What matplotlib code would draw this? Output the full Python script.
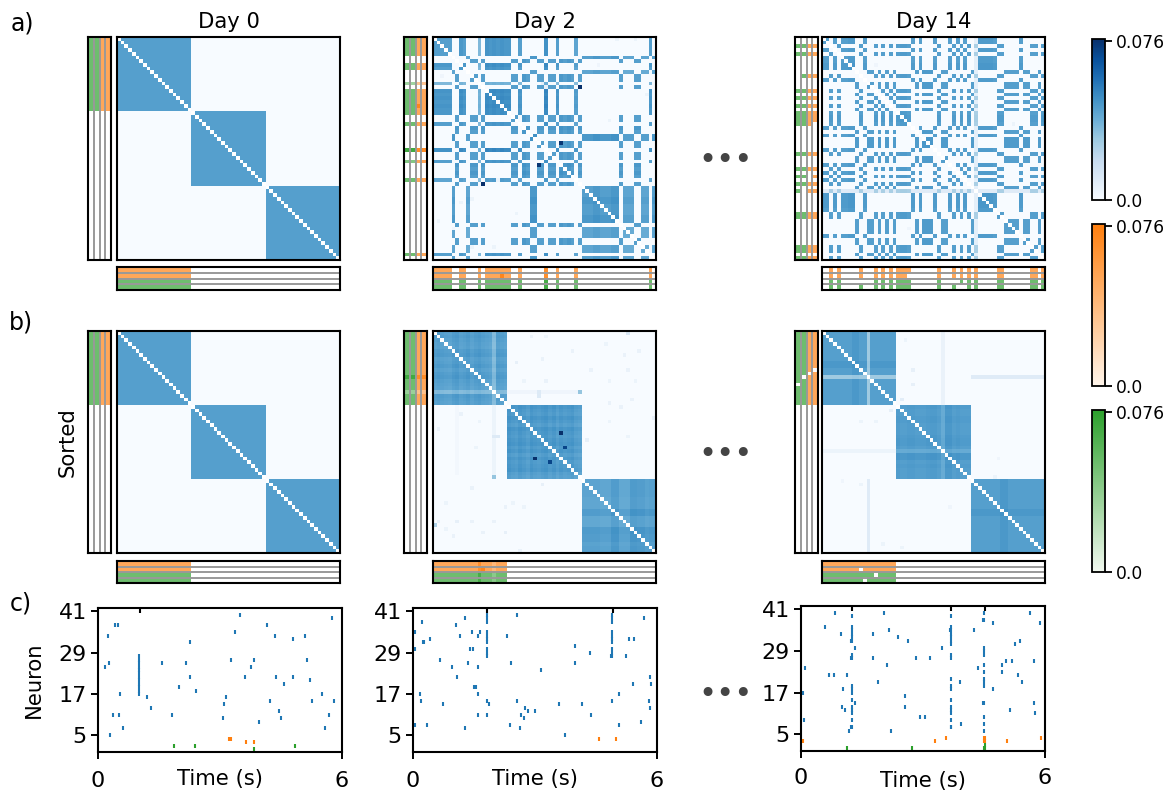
import matplotlib
matplotlib.use('Agg')
import matplotlib.pyplot as plt
import numpy as np
from matplotlib.colors import LinearSegmentedColormap, Normalize
from matplotlib.cm import ScalarMappable

W, H = 1172, 794
VMAX = 0.076
BLOCK = 0.043
STRIP = 0.052

# assembly of each neuron, in plotted order
labels_sorted = 'A' * 20 + 'B' * 20 + 'C' * 20
labels_day2 = 'AAAAACBAACBBABAAAAAAABBABBCCBBABBABBBBAB' + 'CCCCCCCCCCBCCCBBCCAC'
labels_day14 = ''.join(['B', 'B', 'A', 'B', 'A', 'B', 'B', 'B', 'B', 'C',
                        'A', 'B', 'C', 'C', 'A', 'C', 'A', 'C', 'A', 'C',
                        'A', 'A', 'A', 'A', 'B', 'C', 'B', 'C', 'C', 'C',
                        'B', 'A', 'C', 'C', 'B', 'A', 'B', 'A', 'B', 'A',
                        'C', 'A', 'B', 'B', 'B', 'B', 'B', 'A', 'A', 'C',
                        'C', 'C', 'C', 'B', 'C', 'C', 'A', 'A', 'C', 'A'])

# per neuron strength
gain_flat = [1.0] * 60
gain_day2_raw = [1.0, 1.0, 1.0, 1.0, 1.0, 1.0, 1.0, 1.05, 1.0, 0.95,
                 1.0, 1.0, 0.8, 1.0, 1.08, 1.05, 1.08, 1.05, 1.08, 1.05,
                 1.05, 1.0, 1.0, 1.0, 1.05, 1.0, 1.05, 1.05, 1.0, 1.0,
                 1.1, 1.0, 1.0, 1.0, 1.05, 1.0, 1.05, 1.0, 0.95, 1.0,
                 1.0, 1.0, 1.0, 1.05, 1.05, 1.0, 1.0, 1.0, 1.05, 1.05,
                 1.0, 0.95, 0.95, 0.95, 1.0, 1.0, 0.95, 0.95, 1.0, 1.0]
gain_day14_raw = [1.0, 1.0, 1.0, 1.0, 1.0, 1.0, 1.0, 1.03, 1.03, 1.0,
                  1.0, 1.0, 1.0, 1.0, 1.0, 1.0, 1.0, 1.0, 1.0, 1.0,
                  1.0, 1.03, 1.03, 1.0, 1.0, 1.0, 1.0, 1.03, 1.03, 1.03,
                  1.0, 1.0, 1.0, 1.0, 1.0, 1.0, 1.0, 1.0, 1.0, 1.0,
                  1.0, 0.6, 1.03, 1.03, 1.03, 1.03, 1.0, 1.0, 1.0, 1.0,
                  1.0, 1.0, 1.0, 1.0, 1.0, 1.0, 1.0, 1.0, 1.0, 1.0]
gain_day2_sorted = [1.0, 1.02, 1.0, 0.98, 0.97, 1.02, 1.04, 0.98, 1.0, 1.03,
                    0.98, 1.02, 1.04, 1.0, 0.98, 0.96, 0.78, 1.02, 1.0, 0.98,
                    1.05, 1.02, 1.0, 1.05, 1.02, 0.98, 1.05, 1.02, 1.0, 1.03,
                    1.05, 1.0, 1.04, 0.98, 1.03, 1.0, 1.02, 1.04, 0.98, 0.96,
                    0.98, 0.98, 0.98, 0.98, 0.98, 0.96, 0.96, 0.96, 1.04, 1.04,
                    0.95, 0.95, 0.95, 1.05, 1.05, 1.03, 1.03, 0.99, 1.01, 1.01]
gain_day14_sorted = [1.0, 1.0, 1.0, 1.0, 1.0, 1.0, 1.0, 1.0, 1.05, 1.05,
                     1.0, 1.0, 0.65, 1.0, 1.0, 1.0, 1.0, 1.0, 1.0, 1.0,
                     1.02, 1.0, 1.0, 1.02, 1.02, 1.0, 1.0, 1.0, 1.02, 1.03,
                     1.03, 1.0, 0.9, 1.05, 1.05, 1.0, 1.02, 1.0, 1.0, 1.0,
                     1.0, 1.0, 1.0, 1.0, 1.0, 1.0, 1.0, 1.0, 1.05, 1.05,
                     1.0, 1.0, 1.0, 1.0, 1.0, 1.0, 1.0, 1.0, 1.0, 1.0]

# (row, col, weight) for the single cells that stand out
cells_day2_raw = [(13, 39, 0.076), (39, 13, 0.076), (28, 34, 0.074), (34, 28, 0.074),
                  (0, 49, 0.004), (0, 54, 0.004), (7, 44, 0.003), (15, 57, 0.004),
                  (22, 47, 0.004), (44, 7, 0.004), (43, 10, 0.004), (47, 22, 0.004),
                  (49, 1, 0.004), (12, 29, 0.006), (13, 30, 0.006), (56, 16, 0.004),
                  (56, 10, 0.004), (10, 2, 0.003), (38, 17, 0.004), (51, 5, 0.003)]
cells_day14_raw = [(23, 51, 0.004), (7, 14, 0.003), (51, 23, 0.003)]
cells_day2_sorted = [(27, 34, 0.076), (34, 27, 0.076), (31, 35, 0.07), (35, 31, 0.07),
                     (16, 39, 0.03), (39, 16, 0.03), (16, 28, 0.01), (17, 28, 0.01),
                     (28, 16, 0.01), (28, 17, 0.01), (52, 0, 0.025), (0, 52, 0.012),
                     (1, 26, 0.005), (1, 30, 0.004), (3, 46, 0.004), (6, 51, 0.005),
                     (5, 55, 0.005), (5, 37, 0.005), (8, 22, 0.006), (7, 29, 0.005),
                     (10, 42, 0.005), (10, 52, 0.005), (13, 24, 0.004), (13, 30, 0.005),
                     (13, 47, 0.004), (13, 54, 0.004), (18, 53, 0.005), (19, 47, 0.005),
                     (20, 50, 0.005), (22, 7, 0.005), (24, 12, 0.004), (26, 1, 0.005),
                     (24, 47, 0.004), (23, 59, 0.006), (29, 41, 0.006), (28, 52, 0.004),
                     (31, 11, 0.004), (41, 29, 0.006), (42, 10, 0.005), (46, 21, 0.004),
                     (47, 19, 0.005), (47, 24, 0.004), (46, 3, 0.004), (51, 1, 0.006),
                     (51, 6, 0.006), (51, 10, 0.005), (51, 16, 0.005), (53, 3, 0.004),
                     (55, 5, 0.005), (54, 13, 0.005), (54, 19, 0.006), (59, 23, 0.005)]
cells_day14_sorted = [(2, 22, 0.004), (10, 24, 0.006), (14, 24, 0.006), (18, 21, 0.008),
                      (21, 18, 0.006), (24, 10, 0.004), (24, 14, 0.004), (34, 47, 0.003),
                      (39, 46, 0.004), (40, 5, 0.003), (41, 10, 0.004), (47, 34, 0.003),
                      (57, 16, 0.004), (58, 21, 0.004)]

# (row from, row to, col from, col to, weight) for pale stripes
bands_day2_raw = []
bands_day14_raw = [(41, 42, 0, 60, 0.009), (0, 60, 41, 42, 0.007)]
bands_day2_sorted = [(16, 17, 20, 39, 0.003), (20, 39, 16, 17, 0.004),
                     (20, 39, 6, 7, 0.002)]
bands_day14_sorted = [(12, 13, 40, 60, 0.009), (40, 60, 12, 13, 0.009),
                      (0, 20, 32, 33, 0.005), (32, 33, 0, 20, 0.004)]

# input strips: (neuron, input, weight)
left_day2_raw = [(12, 0, 0.034), (12, 1, 0.034), (12, 2, 0.034), (12, 3, 0.034),
                 (30, 0, 0.068), (30, 1, 0.068), (30, 2, 0.068), (30, 3, 0.068),
                 (18, 2, 0.072), (33, 0, 0.044), (33, 1, 0.044)]
bottom_day2_raw = [(0, 30, 0.066), (1, 30, 0.066), (2, 30, 0.066), (3, 30, 0.066),
                   (1, 18, 0.072)]
left_day14_raw = [(10, 0, 0.0), (23, 3, 0.0), (37, 2, 0.0), (41, 1, 0.0)]
bottom_day14_raw = [(2, 10, 0.0), (1, 23, 0.0), (3, 37, 0.0), (2, 35, 0.0)]
left_day2_sorted = [(12, 0, 0.068), (12, 1, 0.068), (12, 2, 0.068), (12, 3, 0.068),
                    (16, 0, 0.036), (16, 1, 0.036), (16, 2, 0.036), (16, 3, 0.036)]
bottom_day2_sorted = [(0, 12, 0.066), (1, 12, 0.066), (2, 12, 0.066), (3, 12, 0.066),
                      (1, 13, 0.072), (0, 16, 0.042), (1, 16, 0.042), (2, 16, 0.042),
                      (3, 16, 0.042)]
left_day14_sorted = [(10, 3, 0.0), (11, 2, 0.0), (12, 1, 0.0), (14, 0, 0.0)]
bottom_day14_sorted = [(1, 10, 0.0), (2, 14, 0.0), (3, 11, 0.0)]

# spikes as (time, neuron)
day0_blue = [(.16, 25), (.27, 26), (.25, 34), (.43, 37), (.49, 37), (.55, 17), (.36, 11),
             (.52, 11), (.61, 7), (.29, 5), (1.21, 16), (1.30, 13), (1.58, 26), (1.83, 11),
             (1.98, 19), (2.17, 26), (2.26, 32), (2.26, 22), (2.42, 18), (3.07, 10),
             (3.11, 14), (3.15, 16), (3.27, 27), (3.38, 35), (3.48, 40), (3.61, 22),
             (3.75, 25), (3.84, 27), (3.96, 9), (4.15, 37), (4.24, 15), (4.36, 34),
             (4.38, 22), (4.44, 12), (4.51, 10), (4.58, 20), (4.80, 33), (4.80, 22),
             (5.10, 34), (5.13, 27), (5.22, 21), (5.25, 15), (5.51, 17), (5.58, 7),
             (5.67, 11), (5.76, 39), (5.80, 15)]
day0_burst = [(1.02, [17, 18, 19, 20, 21, 22, 23, 24, 25, 26, 27, 28])]
day0_orange = [(3.22, 4), (3.27, 4), (3.64, 3), (3.83, 3)]
day0_green = [(1.88, 2), (2.39, 2), (3.84, 1), (4.84, 2)]
day0_black = [(1.03, 41)]

day2_blue = [(.06, 35), (.06, 30), (.06, 8), (.16, 17), (.19, 15), (.21, 38), (.25, 32),
             (.28, 32), (.34, 8), (.43, 33), (.67, 27), (.73, 14), (.96, 25), (1.05, 37),
             (1.07, 22), (1.16, 34), (1.29, 39), (1.29, 7), (1.36, 26), (1.39, 30),
             (1.47, 30), (1.46, 35), (1.50, 19), (1.54, 19), (1.59, 25), (1.61, 34),
             (1.61, 17), (1.59, 11), (1.64, 35), (1.86, 14), (2.30, 34), (2.39, 8),
             (2.41, 26), (2.56, 40), (2.56, 15), (2.63, 7), (2.65, 11), (2.72, 10),
             (2.76, 13), (2.84, 12), (3.0, 12), (3.14, 24), (3.58, 14), (3.74, 5),
             (3.99, 31), (3.99, 26), (4.16, 14), (4.36, 29), (4.38, 11), (4.87, 28),
             (5.06, 17), (5.06, 8), (5.24, 28), (5.32, 33), (5.40, 20), (5.43, 33),
             (5.61, 9), (5.67, 39), (5.81, 15), (5.83, 22), (5.84, 13), (5.86, 20)]
day2_burst = [(1.83, [40, 39, 38, 35, 34, 33, 32, 30, 29, 28, 15, 11]),
              (4.90, [40, 39, 38, 35, 34, 33, 32, 30, 29, 28, 15])]
day2_orange = [(4.58, 4), (4.99, 4)]
day2_green = []
day2_black = [(1.83, 41), (4.91, 41)]

day14_blue = [(.05, 17), (.07, 9), (.11, 24), (.58, 36), (.68, 22), (.81, 22), (.84, 40),
              (.98, 34), (1.01, 13), (1.03, 18), (1.07, 12), (1.12, 22), (1.19, 6),
              (1.24, 32), (1.23, 27), (1.24, 7), (1.33, 14), (1.34, 30), (1.76, 27),
              (1.78, 34), (1.89, 20), (2.05, 40), (2.12, 25), (2.16, 35), (2.21, 6),
              (2.39, 33), (2.55, 16), (2.55, 13), (2.63, 32), (2.82, 27), (2.93, 10),
              (3.04, 10), (3.16, 27), (3.47, 30), (3.67, 35), (3.68, 7), (3.92, 20),
              (3.93, 8), (4.26, 35), (4.35, 24), (4.47, 38), (4.47, 14), (4.71, 37),
              (4.71, 18), (4.94, 25), (4.95, 23), (5.03, 26), (5.14, 12), (5.20, 26),
              (5.25, 31), (5.33, 22), (5.39, 32), (5.44, 20), (5.64, 40), (5.72, 14),
              (5.74, 26), (5.75, 11), (5.87, 37)]
day14_burst = [(1.26, [39, 36, 35, 34, 33, 32, 28, 27, 19, 18, 17, 15, 13, 12, 11, 9, 7]),
               (3.70, [39, 36, 35, 34, 33, 32, 31, 28, 27, 21, 19, 18, 15, 13, 12, 11, 9, 7]),
               (4.50, [40, 38, 30, 29, 28, 25, 23, 21, 20, 19, 14, 10, 8, 6])]
day14_orange = [(.05, 3), (3.30, 3), (3.57, 4), (5.06, 3), (5.90, 4), (4.49, 3), (4.49, 4),
                (4.52, 3), (4.52, 4)]
day14_green = [(1.12, 1), (2.72, 1), (4.49, 1), (4.53, 1), (4.53, 2)]
day14_black = [(1.26, 41), (3.70, 41), (4.52, 41)]

days = ['Day 0', 'Day 2', 'Day 14']
neuron_ticks = [5, 17, 29, 41]
time_ticks = [0, 6]
cbar_ticks = [0.0, 0.075]
cbar_labels = ['0.0', '0.076']

cmap_blue = plt.get_cmap('Blues').copy()
cmap_blue.set_bad('white')
cmap_orange = LinearSegmentedColormap.from_list('o', ['white', '#ff7f0e'])
cmap_green = LinearSegmentedColormap.from_list('g', ['white', '#2ca02c'])
# the colour bars start just off white
cbar_orange = LinearSegmentedColormap.from_list('o2', ['#fff5eb', '#ff7f0e'])
cbar_green = LinearSegmentedColormap.from_list('g2', ['#f2f9f0', '#2ca02c'])

plt.rcParams['font.size'] = 15.2

fig = plt.figure(figsize=(W / 100, H / 100), dpi=100)


def add_ax(l, t, r, b):
    return fig.add_axes([l / W, 1 - b / H, (r - l) / W, (b - t) / H])


def fig_text(x, y, s, **kw):
    fig.text(x / W, 1 - y / H, s, ha=kw.pop('ha', 'center'), va=kw.pop('va', 'center'), **kw)


def build_matrix(labels, gain, cells, bands):
    lab = np.array(list(labels))
    g = np.array(gain)
    m = np.where(lab[:, None] == lab[None, :], BLOCK * g[:, None] * g[None, :], 0.0)
    for r0, r1, c0, c1, v in bands:
        m[r0:r1, c0:c1] = np.maximum(m[r0:r1, c0:c1], v)
    for r, c, v in cells:
        m[r, c] = v
    np.fill_diagonal(m, np.nan)
    return m


def build_strip(labels, fixes):
    s = np.zeros((60, 4))
    s[np.array(list(labels)) == 'A'] = STRIP
    for n, k, v in fixes:
        s[n, k] = v
    return s


def bottom_from(labels, fixes):
    s = np.zeros((4, 60))
    s[:, np.array(list(labels)) == 'A'] = STRIP
    for k, n, v in fixes:
        s[k, n] = v
    return s


def draw_panel(l, t, r, b, strip_l, strip_r, strip_t, strip_b, m, left, bottom):
    ax = add_ax(l, t, r, b)
    ax.imshow(m, cmap=cmap_blue, vmin=0, vmax=VMAX, aspect='auto', interpolation='nearest')
    ax.set_xticks([])
    ax.set_yticks([])

    ax_l = add_ax(strip_l, t, strip_r, b)
    ax_l.imshow(left[:, :2], cmap=cmap_green, vmin=0, vmax=VMAX, aspect='auto',
                extent=(-.5, 1.5, 59.5, -.5), interpolation='nearest')
    ax_l.imshow(left[:, 2:], cmap=cmap_orange, vmin=0, vmax=VMAX, aspect='auto',
                extent=(1.5, 3.5, 59.5, -.5), interpolation='nearest')
    ax_l.set_xlim(-.5, 3.5)
    ax_l.set_ylim(59.5, -.5)
    ax_l.set_xticks([])
    ax_l.set_yticks([])
    for x in [.5, 1.5, 2.5]:
        ax_l.axvline(x, color='#999999', lw=1.4)

    ax_b = add_ax(l, strip_t, r, strip_b)
    ax_b.imshow(bottom[:2, :], cmap=cmap_orange, vmin=0, vmax=VMAX, aspect='auto',
                extent=(-.5, 59.5, 1.5, -.5), interpolation='nearest')
    ax_b.imshow(bottom[2:, :], cmap=cmap_green, vmin=0, vmax=VMAX, aspect='auto',
                extent=(-.5, 59.5, 3.5, 1.5), interpolation='nearest')
    ax_b.set_xlim(-.5, 59.5)
    ax_b.set_ylim(3.5, -.5)
    ax_b.set_xticks([])
    ax_b.set_yticks([])
    for y in [.5, 1.5, 2.5]:
        ax_b.axhline(y, color='#999999', lw=1.4)

    for a in [ax, ax_l, ax_b]:
        for sp in a.spines.values():
            sp.set_linewidth(1.5)


row_a = (37, 260, 267, 290)
row_b = (331, 553, 561, 583)
col_x = [(117, 340, 88, 111), (433, 656, 404, 427), (822, 1045, 795, 818)]

panels_a = [
    (labels_sorted, gain_flat, [], [], [], []),
    (labels_day2, gain_day2_raw, cells_day2_raw, bands_day2_raw, left_day2_raw, bottom_day2_raw),
    (labels_day14, gain_day14_raw, cells_day14_raw, bands_day14_raw, left_day14_raw, bottom_day14_raw),
]
panels_b = [
    (labels_sorted, gain_flat, [], [], [], []),
    (labels_sorted, gain_day2_sorted, cells_day2_sorted, bands_day2_sorted, left_day2_sorted, bottom_day2_sorted),
    (labels_sorted, gain_day14_sorted, cells_day14_sorted, bands_day14_sorted, left_day14_sorted, bottom_day14_sorted),
]

for rows, panels in [(row_a, panels_a), (row_b, panels_b)]:
    for (l, r, sl, sr), (lab, gain, cells, bands, lf, bf) in zip(col_x, panels):
        draw_panel(l, rows[0], r, rows[1], sl, sr, rows[2], rows[3],
                   build_matrix(lab, gain, cells, bands),
                   build_strip(lab, lf), bottom_from(lab, bf))


def plot_spikes(ax, pts, color):
    if len(pts) == 0:
        return
    t, n = zip(*pts)
    ax.plot(t, n, linestyle='none', marker='|', ms=3.2, mew=1.5, color=color)


rasters = [
    ((98, 608, 342, 752), day0_blue, day0_burst, day0_orange, day0_green, day0_black, -0.115, 9),
    ((413, 608, 657, 752), day2_blue, day2_burst, day2_orange, day2_green, day2_black, -0.115, 9),
    ((801, 606, 1045, 751), day14_blue, day14_burst, day14_orange, day14_green, day14_black, -0.135, 7),
]
for i, (box, blue, burst, orange, green, black, lab_y, pad) in enumerate(rasters):
    ax = add_ax(*box)
    plot_spikes(ax, blue, 'tab:blue')
    for t, ns in burst:
        plot_spikes(ax, [(t, n) for n in ns], 'tab:blue')
    plot_spikes(ax, orange, 'tab:orange')
    plot_spikes(ax, green, 'tab:green')
    plot_spikes(ax, black, 'black')
    ax.set_xlim(0, 6)
    ax.set_ylim(0.16, 42)
    ax.set_xticks(time_ticks)
    ax.set_yticks(neuron_ticks)
    ax.tick_params(length=5, width=1.4, labelsize=16)
    ax.tick_params(axis='x', pad=pad)
    ax.tick_params(axis='y', pad=3)
    ax.set_xlabel('Time (s)')
    ax.xaxis.set_label_coords(0.5, lab_y)
    for sp in ax.spines.values():
        sp.set_linewidth(1.5)
    if i == 0:
        ax.set_ylabel('Neuron')
        ax.yaxis.set_label_coords(-0.22, 0.5)

# colour bars
for (t, b), cm in zip([(39, 200), (224, 386), (410, 572)], [cmap_blue, cbar_orange, cbar_green]):
    cax = add_ax(1092, t, 1105, b)
    cb = fig.colorbar(ScalarMappable(Normalize(0, VMAX), cm), cax=cax)
    cb.set_ticks(cbar_ticks)
    cb.set_ticklabels(cbar_labels)
    cb.ax.tick_params(labelsize=12.3, length=5, width=1.3, pad=3)
    cb.outline.set_linewidth(1.3)

for (l, r, _, _), d in zip(col_x, days):
    fig_text((l + r) / 2, 22, d)

fig_text(22, 24, 'a)', fontsize=17)
fig_text(21, 322, 'b)', fontsize=17)
fig_text(21, 604, 'c)', fontsize=17)
fig_text(68, 442, 'Sorted', rotation=90)

for y in [160, 455, 695]:
    fig_text(725.5, y, '\u2022\u2022\u2022', fontsize=22, color='#444444')

fig.savefig('out.png', dpi=100)
